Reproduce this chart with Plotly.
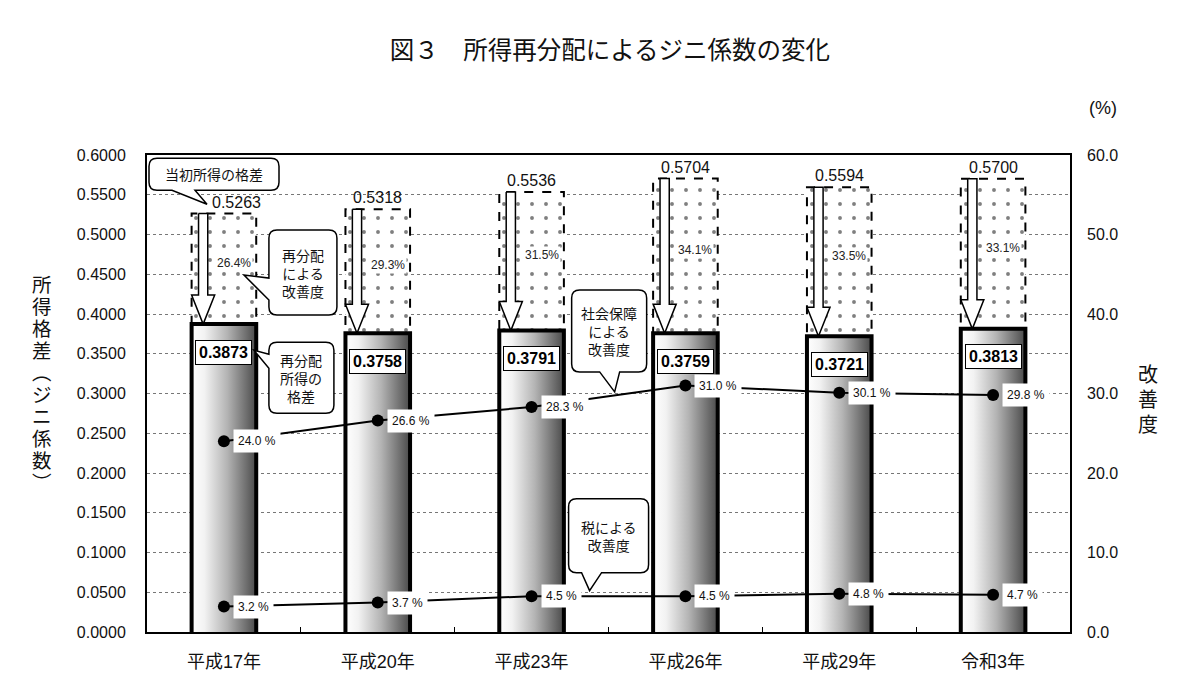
import plotly.graph_objects as go

# data
categories = ['平成17年', '平成20年', '平成23年', '平成26年', '平成29年', '令和3年']
initial_gini = [0.5263, 0.5318, 0.5536, 0.5704, 0.5594, 0.5700]
redist_gini = [0.3873, 0.3758, 0.3791, 0.3759, 0.3721, 0.3813]
redist_improve = [26.4, 29.3, 31.5, 34.1, 33.5, 33.1]
social_improve = [24.0, 26.6, 28.3, 31.0, 30.1, 29.8]
tax_improve = [3.2, 3.7, 4.5, 4.5, 4.8, 4.7]

NUM = 'Liberation Sans, Arial, Noto Sans CJK JP'
JP = 'Noto Sans CJK JP'

xs = list(range(len(categories)))
hw = 0.21          # half width of bars / boxes (category units)
arrow_dx = -0.135  # arrow sits in the left part of the box
shaft = 0.03
head = 0.075
head_len = 0.0365

fig = go.Figure()

# dotted boxes for the initial income gap
bx, by = [], []
for x, top, bot in zip(xs, initial_gini, redist_gini):
    bx += [x - hw, x + hw, x + hw, x - hw, x - hw, None]
    by += [bot, bot, top, top, bot, None]
fig.add_trace(go.Scatter(
    x=bx, y=by, mode='lines', fill='toself', fillcolor='white',
    fillpattern=dict(shape='.', fgcolor='black', bgcolor='white', size=14, solidity=0.06),
    line=dict(color='black', width=2, dash='dash'), hoverinfo='skip', showlegend=False
))

# gradient bars for the redistributed income gap
for x, v in zip(xs, redist_gini):
    fig.add_trace(go.Scatter(
        x=[x - hw, x - hw, x + hw, x + hw], y=[0, v, v, 0],
        mode='lines', fill='toself',
        fillgradient=dict(type='horizontal', colorscale=[
            [0, '#ffffff'], [0.2, '#f2f2f2'], [0.55, '#b4b4b4'], [0.85, '#6e6e6e'], [1, '#4a4a4a']]),
        line=dict(color='black', width=4), hoverinfo='skip', showlegend=False
    ))

# hollow arrows from initial to redistributed value
ax_, ay_ = [], []
for x, top, bot in zip(xs, initial_gini, redist_gini):
    c = x + arrow_dx
    ax_ += [c - shaft, c + shaft, c + shaft, c + head, c, c - head, c - shaft, c - shaft, None]
    ay_ += [top, top, bot + head_len, bot + head_len, bot, bot + head_len, bot + head_len, top, None]
fig.add_trace(go.Scatter(
    x=ax_, y=ay_, mode='lines', fill='toself', fillcolor='white',
    line=dict(color='black', width=1.5), hoverinfo='skip', showlegend=False
))

# improvement lines (right axis)
for vals in [social_improve, tax_improve]:
    fig.add_trace(go.Scatter(
        x=xs, y=vals, yaxis='y2', mode='lines+markers',
        line=dict(color='black', width=2), marker=dict(color='black', size=12),
        hoverinfo='skip', showlegend=False
    ))

ann = []
for x, top, bot, imp in zip(xs, initial_gini, redist_gini, redist_improve):
    ann.append(dict(x=x, y=top, xref='x', yref='y', text=f'{top:.4f}', showarrow=False,
                    yanchor='bottom', yshift=1, xshift=13 if x == 0 else 0,
                    font=dict(family=NUM, size=16, color='#111')))
    ann.append(dict(x=x, y=bot, xref='x', yref='y', text=f'<b>{bot:.4f}</b>', showarrow=False,
                    yshift=-28, bgcolor='white', bordercolor='black', borderwidth=1, borderpad=3,
                    font=dict(family=NUM, size=16, color='black')))
    ann.append(dict(x=x, y=(top + bot) / 2, xref='x', yref='y', text=f'{imp:.1f}%', showarrow=False,
                    xshift=10, yshift=6, bgcolor='white', borderpad=1,
                    font=dict(family=NUM, size=12, color='#222')))

for vals in [social_improve, tax_improve]:
    for x, v in zip(xs, vals):
        ann.append(dict(x=x, y=v, xref='x', yref='y2', text=f'{v:.1f} %', showarrow=False,
                        xanchor='left', xshift=9, bgcolor='white', borderpad=4,
                        font=dict(family=NUM, size=12, color='#111')))


def callout_path(l, r, b, t, side, base, rad=8):
    p = f'M {l + rad},{t} L {r - rad},{t} Q {r},{t} {r},{t - rad} L {r},{b + rad} Q {r},{b} {r - rad},{b} '
    if side == 'bottom':
        p += f'L {base[1]},{b} L 0,0 L {base[0]},{b} '
    p += f'L {l + rad},{b} Q {l},{b} {l},{b + rad} '
    if side == 'left':
        p += f'L {l},{base[0]} L 0,0 L {l},{base[1]} '
    p += f'L {l},{t - rad} Q {l},{t} {l + rad},{t} Z'
    return p


# text, x anchor, y anchor, y axis, box (l, r, b, t) px from tip, tail side, tail base
callouts = [
    ('当初所得の格差', -0.11, 0.538, 'y', (-58, 72, 14, 46), 'bottom', (-35, -12)),
    ('再分配<br>による<br>改善度', 0.13, 0.449, 'y', (25, 93, -40, 45), 'left', (-25, -3)),
    ('再分配<br>所得の<br>格差', 0.195, 0.3545, 'y', (15, 80, -63, 8), 'left', (-18, -4)),
    ('社会保障<br>による<br>改善度', 2.54, 30.2, 'y2', (-43, 32, 20, 102), 'bottom', (-15, 5)),
    ('税による<br>改善度', 2.377, 5.2, 'y2', (-21, 59, 18, 92), 'bottom', (-8, 12)),
]
shapes = []
for text, cx, cy, yr, (l, r, b, t), side, base in callouts:
    shapes.append(dict(type='path', xref='x', yref=yr, xsizemode='pixel', ysizemode='pixel',
                       xanchor=cx, yanchor=cy, path=callout_path(l, r, b, t, side, base),
                       line=dict(color='black', width=1.5), fillcolor='white', layer='above'))
    ann.append(dict(x=cx, y=cy, xref='x', yref=yr, text=text, showarrow=False,
                    xshift=(l + r) / 2, yshift=(b + t) / 2,
                    font=dict(family=JP, size=14, color='#111')))

# axis titles, written vertically one character at a time
left_title = list('所得格差︵ジニ係数︶')
for k, ch in enumerate(left_title):
    ann.append(dict(x=-0.114, y=0.524, xref='paper', yref='paper', showarrow=False, text=ch,
                    xanchor='center', yanchor='middle', height=22,
                    yshift=(len(left_title) - 1) * 11 - k * 22,
                    font=dict(family=JP, size=19.5, color='#111')))
right_title = list('改善度')
for k, ch in enumerate(right_title):
    ann.append(dict(x=1.0845, y=0.49, xref='paper', yref='paper', showarrow=False, text=ch,
                    xanchor='center', yanchor='middle',
                    yshift=25 - k * 25, font=dict(family=JP, size=20, color='#111')))
ann.append(dict(x=1.036, y=1.0985, xref='paper', yref='paper', showarrow=False,
                xanchor='center', yanchor='middle',
                text='(%)', font=dict(family=NUM, size=18, color='#111')))

fig.update_layout(
    width=1192, height=682,
    margin=dict(l=139, r=130, t=147, b=58),
    plot_bgcolor='white', paper_bgcolor='white',
    title=dict(text='図３　所得再分配によるジニ係数の変化', x=0.505, y=0.938,
               xanchor='center', yanchor='middle',
               font=dict(family=JP, size=24.5, color='#111')),
    xaxis=dict(range=[-0.5, len(categories) - 0.5], tickmode='array', tickvals=xs,
               ticktext=categories, ticks='', showgrid=False, zeroline=False,
               showline=True, linecolor='black', linewidth=2, mirror=True,
               ticklabelstandoff=12, tickfont=dict(family=NUM, size=18, color='#111'),
               minor=dict(tickmode='array', tickvals=[x + 0.5 for x in xs[:-1]],
                          ticks='inside', ticklen=5, tickcolor='black', showgrid=False)),
    yaxis=dict(range=[0, 0.6], dtick=0.05, tickformat='.4f', showgrid=True,
               gridcolor='#777', griddash='dot', gridwidth=1, zeroline=False,
               showline=True, linecolor='black', linewidth=2, mirror=True,
               ticks='', ticklabelstandoff=16, tickfont=dict(family=NUM, size=16, color='#111')),
    yaxis2=dict(range=[0, 60], dtick=10, tickformat='.1f', overlaying='y', side='right',
                showgrid=False, zeroline=False, showline=False, ticks='',
                ticklabelstandoff=16, tickfont=dict(family=NUM, size=16, color='#111')),
    shapes=shapes, annotations=ann,
)

fig.write_html('out.html')
